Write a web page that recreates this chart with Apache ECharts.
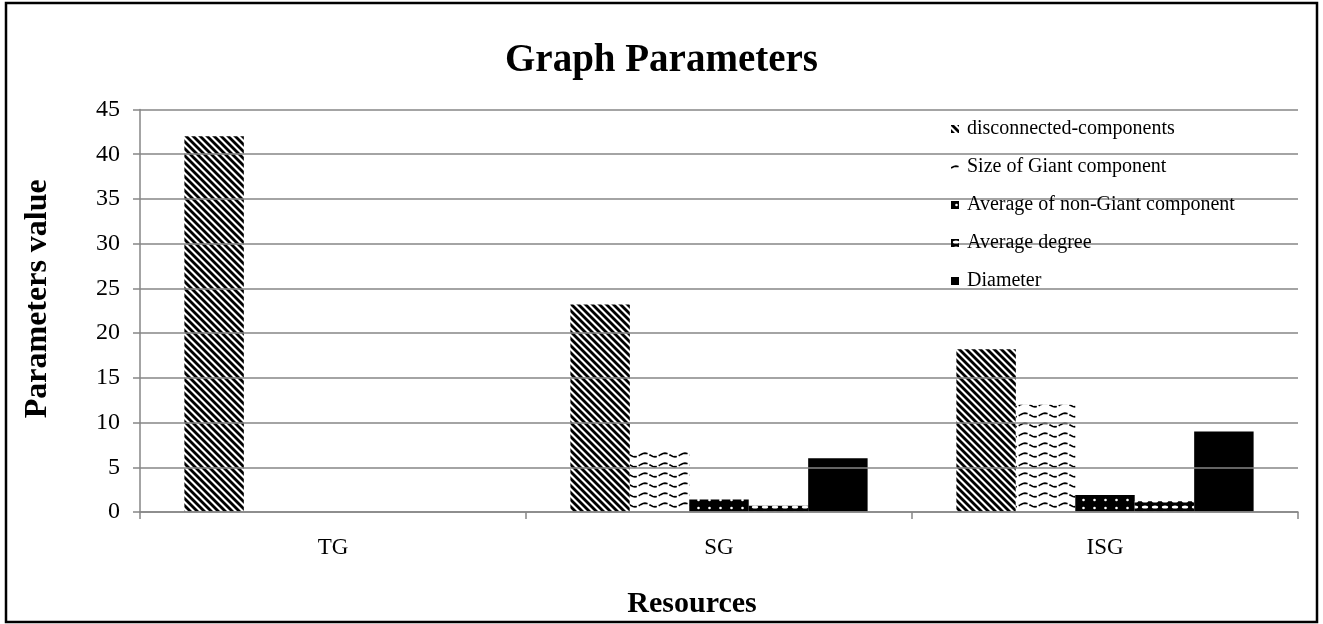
<!DOCTYPE html>
<html>
<head>
<meta charset="utf-8">
<script src="https://cdn.jsdelivr.net/npm/echarts@6/dist/echarts.min.js"></script>
<style>
html,body{margin:0;padding:0;background:#fff;}
#chart{width:1323px;height:624px;}
</style>
</head>
<body>
<div id="chart"></div>
<script>
const categories = ['TG', 'SG', 'ISG'];
const seriesNames = ['disconnected-components', 'Size of Giant component', 'Average of non-Giant component', 'Average degree', 'Diameter'];
const disconnected = [42, 23.2, 18.2];
const giantSize = [0, 7, 12];
const nonGiantAvg = [0, 1.4, 1.9];
const avgDegree = [0, 0.7, 1.2];
const diameter = [0, 6, 9];
const yTicks = [0, 5, 10, 15, 20, 25, 30, 35, 40, 45];

function tile(w, h, draw) {
  const c = document.createElement('canvas');
  c.width = w; c.height = h;
  const g = c.getContext('2d');
  draw(g, w, h);
  return {image: c, repeat: 'repeat'};
}
// diagonal "\" stripes
const stripePattern = tile(7, 7, (g, w, h) => {
  const img = g.createImageData(w, h);
  for (let y = 0; y < h; y++) for (let x = 0; x < w; x++) {
    const d = ((x - y) % w + w) % w;
    const v = d < 3 ? 0 : (d === 3 || d === 6 ? 128 : 255);
    const i = (y * w + x) * 4;
    img.data[i] = img.data[i+1] = img.data[i+2] = v; img.data[i+3] = 255;
  }
  g.putImageData(img, 0, 0);
});
// dashed waves
const wavePattern = tile(20, 10, (g, w, h) => {
  g.fillStyle = '#fff'; g.fillRect(0, 0, w, h);
  g.strokeStyle = '#000'; g.lineWidth = 1.7;
  g.setLineDash([8, 2]);
  g.beginPath();
  for (let x = 0; x <= w; x++) {
    const y = 5 - 1.8 * Math.sin(x / w * Math.PI * 2);
    if (x === 0) g.moveTo(x, y); else g.lineTo(x, y);
  }
  g.stroke();
});
// black with white dots
const dotPattern = tile(11, 8, (g, w, h) => {
  g.fillStyle = '#000'; g.fillRect(0, 0, w, h);
  g.fillStyle = '#fff';
  g.beginPath(); g.arc(5.5, 4, 1.3, 0, Math.PI * 2); g.fill();
});
// black with white ovals
const ovalPattern = tile(10, 6, (g, w, h) => {
  g.fillStyle = '#000'; g.fillRect(0, 0, w, h);
  g.fillStyle = '#fff';
  g.beginPath(); g.ellipse(5, 3, 3.2, 1.6, 0, 0, Math.PI * 2); g.fill();
});

const dataSets = [disconnected, giantSize, nonGiantAvg, avgDegree, diameter];
const fills = [stripePattern, wavePattern, dotPattern, ovalPattern, '#000'];

const chart = echarts.init(document.getElementById('chart'), null, {renderer: 'canvas'});
const font = 'Liberation Serif';
chart.setOption({
  animation: false,
  backgroundColor: '#fff',
  title: {
    text: 'Graph Parameters',
    left: 'center',
    top: 41,
    padding: 0,
    textStyle: {fontFamily: font, fontSize: 39, fontWeight: 'bold', color: '#000'}
  },
  legend: {
    orient: 'vertical',
    left: 951,
    top: 119,
    padding: 0,
    itemWidth: 8,
    itemHeight: 8,
    itemGap: 18,
    icon: 'rect',
    data: seriesNames,
    textStyle: {fontFamily: font, fontSize: 20, lineHeight: 20, color: '#000', padding: [0, 0, 0, 3]}
  },
  grid: {left: 140, right: 25, top: 109.5, bottom: 111, containLabel: false},
  xAxis: {
    type: 'category',
    data: categories,
    name: 'Resources',
    nameLocation: 'middle',
    nameGap: 77,
    nameTextStyle: {fontFamily: font, fontSize: 30, fontWeight: 'bold', color: '#000', padding: [0, 54, 0, 0]},
    axisLine: {lineStyle: {color: '#868686', width: 1.5}},
    axisTick: {show: true, length: 7, lineStyle: {color: '#868686', width: 1.5}},
    axisLabel: {fontFamily: font, fontSize: 23, color: '#000', margin: 24},
    z: 3
  },
  yAxis: {
    type: 'value',
    min: yTicks[0],
    max: yTicks[yTicks.length - 1],
    interval: 5,
    name: 'Parameters value',
    nameLocation: 'middle',
    nameGap: 86,
    nameTextStyle: {fontFamily: font, fontSize: 32, fontWeight: 'bold', color: '#000', padding: [0, 0, 0, 24]},
    axisLine: {show: true, lineStyle: {color: '#868686', width: 1.5}},
    axisTick: {show: true, length: 7, lineStyle: {color: '#868686', width: 1.5}},
    axisLabel: {fontFamily: font, fontSize: 24, color: '#000', margin: 20},
    splitLine: {show: true, lineStyle: {color: '#868686', width: 1.5}},
    z: 3
  },
  series: seriesNames.map((name, i) => ({
    name: name,
    type: 'bar',
    data: dataSets[i],
    barGap: '0%',
    barCategoryGap: '23%',
    itemStyle: {color: fills[i]},
    z: 2
  })),
  graphic: [{
    type: 'rect',
    shape: {x: 6, y: 3, width: 1311, height: 619},
    style: {fill: 'none', stroke: '#000', lineWidth: 2.5},
    silent: true,
    z: 100
  }]
});
</script>
</body>
</html>
